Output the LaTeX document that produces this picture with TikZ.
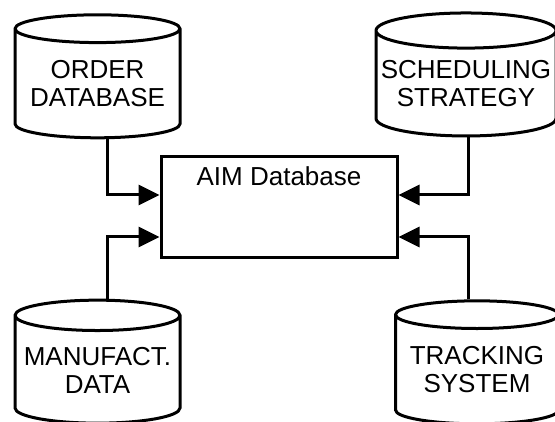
\documentclass[tikz,border=0pt]{standalone}
\usepackage{fontspec}
\setmainfont{Liberation Sans}
\usetikzlibrary{shapes.geometric}
\usetikzlibrary{arrows.meta}

\begin{document}
\begin{tikzpicture}[x=1pt,y=-1pt,line width=3pt,>={Triangle[length=21pt,width=20pt]},
	db node/.style={cylinder,shape border rotate=90,draw,aspect=0.206,minimum height=123pt,minimum width=165pt,inner sep=0pt,align=center,font=\fontsize{26}{28}\selectfont},
	box node/.style={rectangle,draw,minimum width=236pt,minimum height=101pt,inner sep=0pt}]

	\useasboundingbox (0,0) rectangle (555,422);

	\node[box node] (aim) at (279,207.5) {};
	\node[font=\fontsize{26}{28}\selectfont,anchor=north,inner sep=0pt] (aimtitle) at ([yshift=-10pt]aim.north) {AIM Database};

	\node[db node] (ord) at (97.5,84) {ORDER\\DATABASE};
	\node[db node,minimum width=180pt] (sched) at (466,84) {SCHEDULING\\STRATEGY};
	\node[db node] (man) at (97.5,370) {MANUFACT.\\DATA};
	\node[db node,minimum width=163pt] (track) at (477,370) {TRACKING\\SYSTEM};

	\draw[->] ([xshift=9.5pt]ord.bottom) |- ([yshift=12.5pt]aim.west);
	\draw[->] ([xshift=9.5pt]man.top) |- ([yshift=-29.5pt]aim.west);
	\draw[->] ([xshift=2pt]sched.bottom) |- ([yshift=12.5pt]aim.east);
	\draw[->] ([xshift=-9pt]track.top) |- ([yshift=-29.5pt]aim.east);

\end{tikzpicture}
\end{document}
